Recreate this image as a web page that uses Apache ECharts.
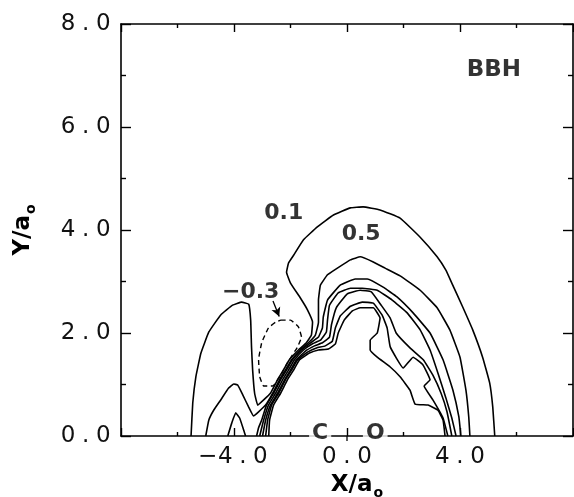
<!DOCTYPE html>
<html>
<head>
<meta charset="utf-8">
<script src="https://cdn.jsdelivr.net/npm/echarts@6/dist/echarts.min.js"></script>
<style>
html, body { margin: 0; padding: 0; background: #fff; }
#chart { width: 574px; height: 497px; }
</style>
</head>
<body>
<div id="chart"></div>
<script>
// Contour lines of the density difference around the CO molecule (BBH), in bohr units.
// Outermost positive contour (0.1)
const ring1 = [
  [-5.52, 0], [-5.46, 0.64], [-5.35, 1.15], [-5.17, 1.61], [-4.89, 2.02], [-4.47, 2.35],
  [-4.05, 2.54], [-3.73, 2.60], [-3.48, 2.56], [-3.41, 2.25], [-3.38, 1.73], [-3.34, 1.28],
  [-3.27, 0.83], [-3.16, 0.60], [-2.95, 0.70], [-2.71, 0.83], [-2.46, 1.09], [-2.25, 1.28],
  [-2.04, 1.48], [-1.72, 1.67], [-1.44, 1.81], [-1.26, 1.96], [-1.22, 2.21], [-1.40, 2.45],
  [-1.65, 2.68], [-2.00, 2.97], [-2.14, 3.18], [-2.07, 3.36], [-1.89, 3.51], [-1.54, 3.81],
  [-1.05, 4.06], [-0.48, 4.29], [0.12, 4.43], [0.57, 4.45], [1.17, 4.39], [1.88, 4.23],
  [2.59, 3.86], [3.19, 3.48], [3.50, 3.22], [3.71, 2.97], [4.10, 2.50], [4.45, 2.06],
  [4.80, 1.53], [5.05, 1.03], [5.16, 0.56], [5.23, 0]
];
// Second contour (0.5)
const ring2 = [
  [-5.00, 0], [-4.89, 0.31], [-4.72, 0.50], [-4.47, 0.70], [-4.19, 0.93], [-4.01, 1.01],
  [-3.87, 0.99], [-3.69, 0.80], [-3.48, 0.56], [-3.31, 0.39], [-3.13, 0.47], [-2.88, 0.60],
  [-2.63, 0.83], [-2.39, 1.09], [-2.18, 1.28], [-1.96, 1.48], [-1.65, 1.67], [-1.33, 1.83],
  [-1.12, 1.96], [-1.01, 2.21], [-1.01, 2.64], [-0.94, 2.93], [-0.69, 3.13], [-0.34, 3.26],
  [0.12, 3.42], [0.47, 3.48], [0.93, 3.38], [1.35, 3.26], [1.88, 3.11], [2.59, 2.83],
  [3.19, 2.49], [3.64, 2.06], [4.00, 1.53], [4.21, 0.89], [4.31, 0.37], [4.35, 0]
];
// Third contour: small lobe behind carbon and the main arc
const ring3Lobe = [
  [-4.22, 0], [-4.08, 0.25], [-3.94, 0.45], [-3.80, 0.35], [-3.66, 0.12], [-3.59, 0]
];
const ring3 = [
  [-3.20, 0], [-3.13, 0.16], [-3.02, 0.31], [-2.85, 0.60], [-2.60, 0.83], [-2.35, 1.09],
  [-2.14, 1.28], [-1.93, 1.48], [-1.61, 1.67], [-1.29, 1.81], [-1.01, 1.92], [-0.87, 2.10],
  [-0.84, 2.31], [-0.69, 2.64], [-0.24, 2.93], [0.29, 3.05], [0.72, 3.05], [1.28, 2.89],
  [1.77, 2.70], [2.34, 2.39], [2.94, 2.00], [3.40, 1.48], [3.75, 0.89], [3.96, 0.37], [4.03, 0]
];
const ring4 = [
  [-3.09, 0], [-2.95, 0.31], [-2.78, 0.60], [-2.53, 0.83], [-2.28, 1.09], [-2.07, 1.28],
  [-1.86, 1.48], [-1.54, 1.67], [-1.22, 1.79], [-0.94, 1.86], [-0.73, 2.02], [-0.69, 2.25],
  [-0.62, 2.54], [-0.31, 2.78], [0.12, 2.87], [0.54, 2.87], [1.07, 2.83], [1.60, 2.64],
  [2.13, 2.39], [2.59, 2.06], [2.94, 1.67], [3.22, 1.22], [3.50, 0.74], [3.71, 0.35], [3.86, 0]
];
const ring5 = [
  [-2.99, 0], [-2.88, 0.31], [-2.71, 0.60], [-2.46, 0.83], [-2.21, 1.09], [-2.00, 1.28],
  [-1.79, 1.48], [-1.47, 1.65], [-1.15, 1.75], [-0.87, 1.81], [-0.62, 1.92], [-0.55, 2.16],
  [-0.38, 2.49], [0.01, 2.76], [0.47, 2.83], [0.86, 2.80], [1.21, 2.54], [1.53, 2.29],
  [1.74, 2.00], [2.23, 1.71], [2.70, 1.48], [3.04, 1.18], [3.33, 0.83], [3.54, 0.47], [3.71, 0]
];
const ring6 = [
  [-2.88, 0], [-2.81, 0.31], [-2.67, 0.60], [-2.42, 0.83], [-2.18, 1.09], [-1.96, 1.28],
  [-1.75, 1.48], [-1.40, 1.63], [-1.08, 1.71], [-0.77, 1.75], [-0.52, 1.84], [-0.41, 2.10],
  [-0.24, 2.33], [0.12, 2.52], [0.54, 2.60], [0.93, 2.58], [1.24, 2.35], [1.42, 2.10],
  [1.53, 1.73], [1.99, 1.32], [2.34, 1.53], [2.69, 1.38], [2.94, 1.09], [2.73, 0.97],
  [3.04, 0.70], [3.40, 0.35], [3.57, 0]
];
// Innermost contour, jagged on the oxygen side
const ring7 = [
  [-2.77, 0], [-2.74, 0.31], [-2.60, 0.60], [-2.35, 0.83], [-2.11, 1.09], [-1.89, 1.28],
  [-1.68, 1.48], [-1.33, 1.61], [-1.01, 1.67], [-0.66, 1.69], [-0.41, 1.79], [-0.31, 2.00],
  [-0.10, 2.25], [0.19, 2.43], [0.47, 2.49], [0.93, 2.49], [1.17, 2.29], [1.07, 2.00],
  [0.82, 1.86], [0.82, 1.67], [1.07, 1.53], [1.53, 1.34], [1.88, 1.15], [2.23, 0.89],
  [2.41, 0.62], [2.87, 0.60], [3.22, 0.50], [3.40, 0.31], [3.47, 0]
];
// Negative contour (-0.3), closed loop
const negRing = [
  [-2.35, 2.25], [-2.00, 2.25], [-1.72, 2.12], [-1.61, 1.92], [-1.75, 1.73], [-2.11, 1.42],
  [-2.35, 1.18], [-2.63, 0.97], [-2.95, 0.97], [-3.09, 1.15], [-3.13, 1.48], [-3.02, 1.81],
  [-2.78, 2.10], [-2.53, 2.21], [-2.35, 2.25]
];
// Pointer from the "-0.3" label to the dashed contour
const arrowFrom = [-2.62, 2.62];
const arrowTo = [-2.40, 2.32];

// Contour labels and panel tag
const noteText = ['0.1', '0.5', '\u22120.3', 'BBH'];
const noteX = [-2.24, 0.50, -3.41, 5.20];
const noteY = [4.33, 3.92, 2.80, 7.11];
const noteSize = [22, 22, 22, 23];

// Nuclei on the molecular axis
const atomText = ['C', 'O'];
const atomX = [-0.95, 1.00];
const atomY = [0, 0];
const bondCentre = [0, 0];

// Axis ranges
const xMin = -8, xMax = 8, xStep = 4;
const yMin = 0, yMax = 8, yStep = 2;

const tickFont = "'DejaVu Sans', 'Liberation Sans', sans-serif";
const boldFont = "'DejaVu Sans', 'Liberation Sans', sans-serif";
const cell = 17.6;

function spacedLabel(v) {
  const s = v.toFixed(1).replace('-', '\u2212');
  return s.split('').map(ch => '{c|' + ch + '}').join('');
}
const tickRich = {
  c: { width: cell, align: 'center', fontSize: 23, fontFamily: tickFont, color: '#111' }
};
const titleRich = {
  m: { fontFamily: boldFont, fontWeight: 'bold', fontSize: 23, color: '#000', lineHeight: 30 },
  s: { fontFamily: boldFont, fontWeight: 'bold', fontSize: 14, color: '#000', verticalAlign: 'bottom', padding: [0, 0, 0, 1] }
};

const lineBase = { color: '#000', width: 1.6 };

function contour(data, dashed) {
  return {
    type: 'line',
    data: data,
    showSymbol: false,
    symbol: 'none',
    smooth: 0.1,
    silent: true,
    animation: false,
    lineStyle: Object.assign({}, lineBase, dashed ? { type: [5, 3.5], width: 1.4 } : {}),
    z: 3
  };
}

const chart = echarts.init(document.getElementById('chart'), null, { renderer: 'canvas' });

const negSeries = contour(negRing, true);
negSeries.markLine = {
  silent: true,
  symbol: ['none', 'arrow'],
  symbolSize: [7, 9],
  label: { show: false },
  lineStyle: { color: '#000', width: 1.3, type: 'solid', curveness: -0.25 },
  data: [[{ coord: arrowFrom }, { coord: arrowTo }]],
  animation: false
};

function frameAxis(extra) {
  return Object.assign({
    type: 'value',
    axisLine: { show: true, onZero: false, lineStyle: { color: '#000', width: 1.6 } },
    splitLine: { show: false }
  }, extra);
}

chart.setOption({
  animation: false,
  backgroundColor: '#fff',
  grid: { left: 121, right: 1, top: 24, bottom: 61, containLabel: false, outerBoundsMode: 'none' },
  xAxis: [
    frameAxis({
      min: xMin, max: xMax, interval: xStep, position: 'bottom',
      axisTick: { show: true, inside: true, length: 8, lineStyle: { color: '#000', width: 1.4 } },
      minorTick: { show: true, splitNumber: 2, length: 4, lineStyle: { color: '#000', width: 1.4 } },
      axisLabel: {
        margin: 10, fontSize: 23, fontFamily: tickFont,
        formatter: v => (Math.abs(v) === 8 ? '' : spacedLabel(v)),
        rich: tickRich
      },
      name: '{m|X/a}{s|o}',
      nameLocation: 'middle',
      nameGap: 31,
      nameTextStyle: { rich: titleRich, padding: [0, 0, 0, 20] }
    }),
    frameAxis({
      min: xMin, max: xMax, interval: xStep, position: 'top',
      axisTick: { show: true, inside: true, length: 8, lineStyle: { color: '#000', width: 1.4 } },
      minorTick: { show: true, splitNumber: 2, length: 4, lineStyle: { color: '#000', width: 1.4 } },
      axisLabel: { show: false }
    })
  ],
  yAxis: [
    frameAxis({
      min: yMin, max: yMax, interval: yStep, position: 'left',
      axisTick: { show: true, inside: true, length: 10, lineStyle: { color: '#000', width: 1.4 } },
      minorTick: { show: true, splitNumber: 2, length: 5, lineStyle: { color: '#000', width: 1.4 } },
      axisLabel: { margin: 9, fontSize: 23, fontFamily: tickFont, formatter: v => spacedLabel(v), rich: tickRich },
      name: '{m|Y/a}{s|o}',
      nameLocation: 'middle',
      nameRotate: 90,
      nameGap: 83,
      nameTextStyle: { rich: titleRich }
    }),
    frameAxis({
      min: yMin, max: yMax, interval: yStep, position: 'right',
      axisTick: { show: true, inside: true, length: 10, lineStyle: { color: '#000', width: 1.4 } },
      minorTick: { show: true, splitNumber: 2, length: 5, lineStyle: { color: '#000', width: 1.4 } },
      axisLabel: { show: false }
    })
  ],
  series: [
    contour(ring1), contour(ring2), contour(ring3Lobe), contour(ring3),
    contour(ring4), contour(ring5), contour(ring6), contour(ring7),
    negSeries,
    {
      type: 'scatter',
      silent: true,
      symbolSize: 0,
      data: noteText.map((t, i) => ({
        value: [noteX[i], noteY[i]], name: t,
        label: { fontSize: noteSize[i] }
      })),
      label: {
        show: true, position: 'inside', formatter: p => p.name,
        fontFamily: boldFont, fontWeight: 'bold', color: '#000'
      },
      z: 5
    },
    {
      type: 'scatter',
      silent: true,
      symbol: 'rect',
      symbolSize: [1.6, 5],
      symbolOffset: [0, 2.5],
      itemStyle: { color: '#000' },
      data: [bondCentre],
      clip: false,
      z: 6
    },
    {
      type: 'scatter',
      silent: true,
      symbolSize: 0,
      clip: false,
      data: atomText.map((t, i) => ({ value: [atomX[i], atomY[i]], name: t })),
      label: {
        show: true, position: 'inside', offset: [0, -3], formatter: p => p.name,
        fontFamily: boldFont, fontWeight: 'bold', fontSize: 22, color: '#000',
        backgroundColor: '#fff', padding: [0, 3]
      },
      z: 7
    }
  ]
});
</script>
</body>
</html>
